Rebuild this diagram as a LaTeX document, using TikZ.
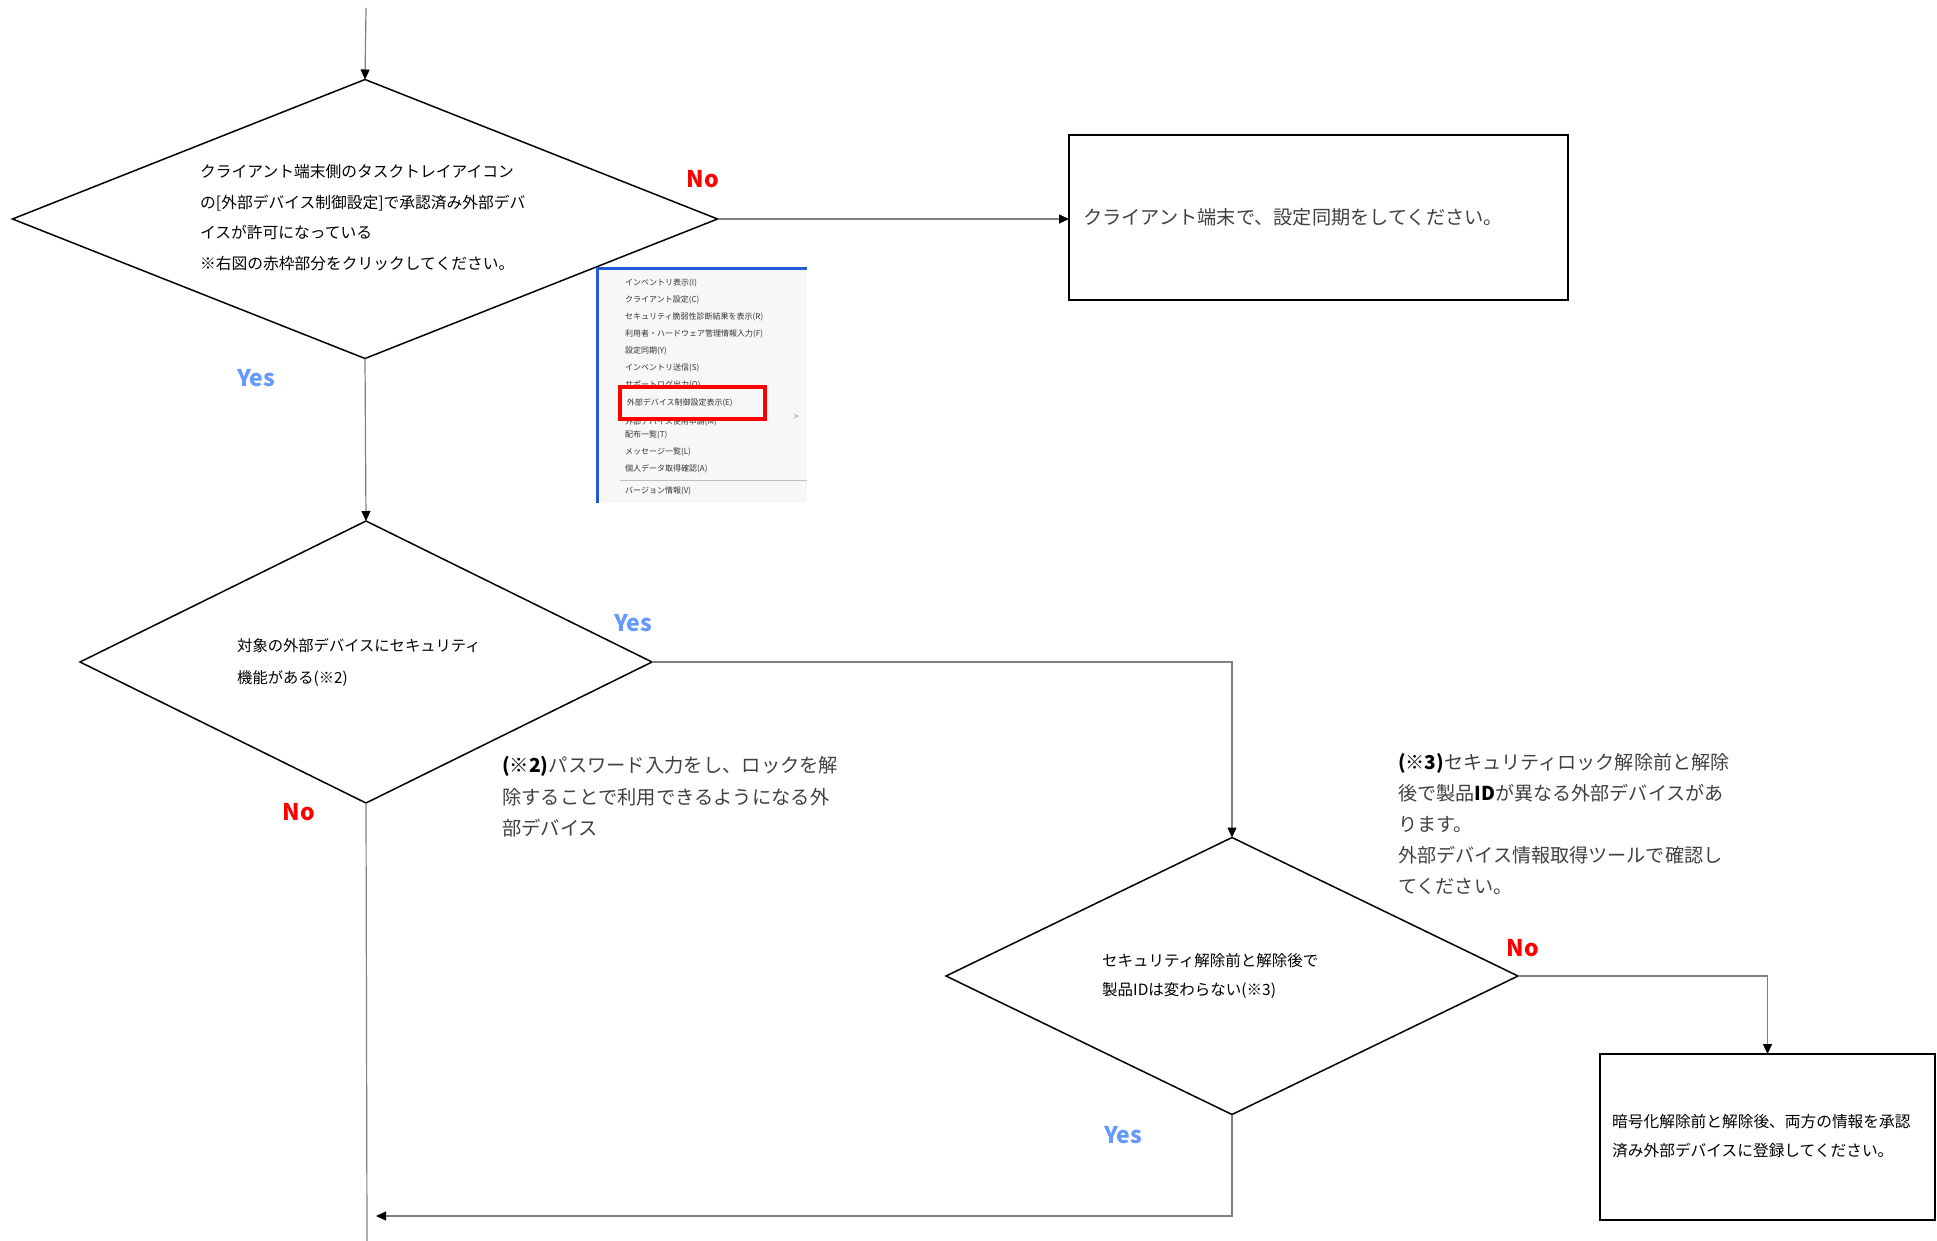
\documentclass[tikz,border=0pt]{standalone}
\usepackage{fontspec}
\setmainfont{Noto Sans CJK JP}
\usetikzlibrary{arrows.meta, positioning, shapes.geometric}
\definecolor{lineGray}{gray}{0.5}
\definecolor{textGray}{gray}{0.25}
\definecolor{yesBlue}{RGB}{102,153,255}
\definecolor{noRed}{RGB}{255,0,0}
\definecolor{menuBack}{gray}{0.97}
\definecolor{menuBlue}{RGB}{35,90,215}

\begin{document}
\begin{tikzpicture}[x=1pt, y=-1pt, >={Triangle[length=10pt, width=9pt, color=black]},
    decision/.style={diamond, draw=black, line width=1.5pt, inner sep=0pt, outer sep=0pt},
    endbox/.style={rectangle, draw=black, line width=2pt, inner sep=0pt, outer sep=0pt},
    flow/.style={draw=lineGray, line width=1.2pt},
    yeslabel/.style={font=\fontsize{23}{23}\selectfont\bfseries, text=yesBlue},
    nolabel/.style={font=\fontsize{23}{23}\selectfont\bfseries, text=noRed},
    condtext/.style={anchor=west, align=left, inner sep=0pt},
    menuitem/.style={anchor=west, inner sep=0pt, font=\fontsize{8}{9}\selectfont, text=black!80}]
    \useasboundingbox (0,0) rectangle (1937,1241);

    % Decisions
    \node[decision, minimum width=705pt, minimum height=279pt] (dsync) at (365,219) {};
    \node[condtext, font=\fontsize{15.75}{30.5}\selectfont] (tsync) at (200,217.5)
        {クライアント端末側のタスクトレイアイコン\\の[外部デバイス制御設定]で承認済み外部デバ\\イスが許可になっている\\※右図の赤枠部分をクリックしてください。};
    \node[decision, minimum width=572pt, minimum height=282pt] (dsec) at (366,662) {};
    \node[condtext, font=\fontsize{15.3}{32}\selectfont] (tsec) at (237,662)
        {対象の外部デバイスにセキュリティ\\機能がある(※2)};
    \node[decision, minimum width=572pt, minimum height=277pt] (did) at (1232,976) {};
    \node[condtext, font=\fontsize{15.5}{29}\selectfont] (tid) at (1102,976)
        {セキュリティ解除前と解除後で\\製品IDは変わらない(※3)};

    % Boxes
    \node[endbox, minimum width=499pt, minimum height=165pt] (bsync) at (1318.5,217.5) {};
    \node[condtext, font=\fontsize{19.2}{24}\selectfont, text=textGray] (tbsync) at (1083,217)
        {クライアント端末で、設定同期をしてください。};
    \node[endbox, minimum width=335pt, minimum height=166pt] (breg) at (1767.5,1137) {};
    \node[condtext, font=\fontsize{15.7}{29.6}\selectfont] (tbreg) at (1612,1136)
        {暗号化解除前と解除後、両方の情報を承認\\済み外部デバイスに登録してください。};

    % Notes
    \node[condtext, font=\fontsize{19.3}{31.5}\selectfont, text=textGray] (note2) at (502,797)
        {{\color{black}\bfseries(※2)}パスワード入力をし、ロックを解\\除することで利用できるようになる外\\部デバイス};
    \node[condtext, font=\fontsize{19.1}{31.2}\selectfont, text=textGray] (note3) at (1398,824)
        {{\color{black}\bfseries(※3)}セキュリティロック解除前と解除\\後で製品{\color{black}\bfseries ID}が異なる外部デバイスがあ\\ります。\\外部デバイス情報取得ツールで確認し\\てください。};

    % Menu screenshot
    \node[rectangle, fill=menuBack, inner sep=0pt, outer sep=0pt, minimum width=210pt, minimum height=234pt, anchor=north west] (menu) at (597,269) {};
    \draw[menuBlue, line width=3pt] (menu.south west) -- (menu.north west) -- (menu.north east);
    \foreach \i/\txt in {0/インベントリ表示(I), 1/クライアント設定(C), 2/セキュリティ脆弱性診断結果を表示(R),
        3/利用者・ハードウェア管理情報入力(F), 4/設定同期(Y), 5/インベントリ送信(S), 6/サポートログ出力(O),
        9/配布一覧(T), 10/メッセージ一覧(L), 11/個人データ取得確認(A)}
        \node[menuitem] (item\i) at (625,{283+16.9*\i}) {\txt};
    \node[menuitem] (item8) at (625,422) {外部デバイス使用申請(M)};
    \node[menuitem] (itemver) at (625,491) {バージョン情報(V)};
    \draw[black!25, line width=0.8pt] (620,480) -- (menu.east |- 0,480);
    \node[menuitem, text=black!55] (subarrow) at (794,417) {>};
    \node[rectangle, draw=red, line width=3.5pt, fill=menuBack, anchor=north west, inner xsep=7pt, inner ysep=0pt,
        text width=131pt, minimum height=32pt, align=left, font=\fontsize{8}{9}\selectfont, text=black!80] (redbox) at (618,385)
        {外部デバイス制御設定表示(E)};

    % Labels
    \node[nolabel] (no1) at (703,179) {No};
    \node[yeslabel] (yes1) at (256,378) {Yes};
    \node[yeslabel] (yes2) at (633,623) {Yes};
    \node[nolabel] (no2) at (299,812) {No};
    \node[nolabel] (no3) at (1523,948) {No};
    \node[yeslabel] (yes3) at (1123,1135) {Yes};

    % Connectors
    \coordinate (start) at (366,8);
    \coordinate (finish) at (367,1241);
    \coordinate (merge) at (376,1216);
    \draw[flow, ->] (start) -- (dsync.north);
    \draw[flow, ->] (dsync.east) -- (dsync.east -| bsync.west);
    \draw[flow, ->] (dsync.south) -- (dsec.north);
    \draw[flow, ->] (dsec.east) -| (did.north);
    \draw[flow] (dsec.south) -- (finish);
    \draw[flow, ->] (did.east) -| (breg.north);
    \draw[flow, ->] (did.south) |- (merge);
\end{tikzpicture}
\end{document}
